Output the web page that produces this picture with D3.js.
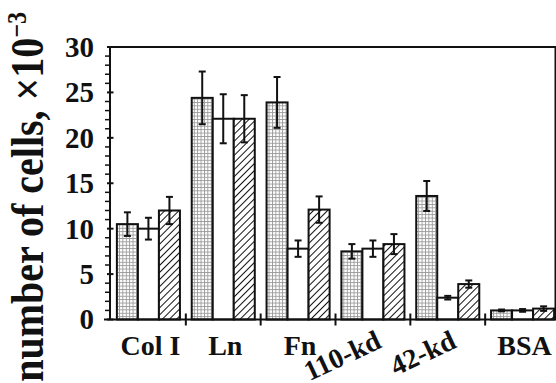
<!DOCTYPE html>
<html>
<head>
<meta charset="utf-8">
<script src="https://cdn.jsdelivr.net/npm/d3@7"></script>
<style>
  body { margin: 0; background: #fff; }
  text { font-family: "Liberation Serif", "Times New Roman", Times, serif; font-weight: 700; fill: #111; }
</style>
</head>
<body>
<script>
const w = 556, h = 383;

// data (number of cells x 10^-3)
const categories = ["Col I", "Ln", "Fn", "110-kd", "42-kd", "BSA"];
const series = ["dotted", "open", "hatched"];
const dottedVals = [10.5, 24.4, 23.9, 7.5, 13.6, 1.0];
const dottedErr  = [1.3, 2.9, 2.8, 0.8, 1.65, 0.1];
const openVals   = [10.0, 22.1, 7.8, 7.8, 2.4, 1.0];
const openErr    = [1.2, 2.7, 0.9, 0.9, 0.2, 0.15];
const hatchVals  = [12.0, 22.1, 12.1, 8.3, 3.9, 1.2];
const hatchErr   = [1.5, 2.6, 1.45, 1.1, 0.4, 0.25];
const yTicks = [0, 5, 10, 15, 20, 25, 30];
const rotatedLabels = ["110-kd", "42-kd"];

const vals = [dottedVals, openVals, hatchVals];
const errs = [dottedErr, openErr, hatchErr];

let rows = [];
categories.forEach((c, i) => {
    series.forEach((s, j) => {
        rows.push({ cat: c, ser: s, v: vals[j][i], e: errs[j][i] });
    });
});

const pLeft = 110, pRight = 555.5, pTop = 47, pBottom = 319.5;

let xScale = d3.scaleBand().domain(categories).range([111, 560]);
let xSub = d3.scaleBand().domain(series).range([0, xScale.bandwidth()]).paddingOuter(0.28);
let yScale = d3.scaleLinear().domain([0, 30]).range([pBottom, pTop]);

var svg = d3.select("body")
    .append("svg")
    .attr("width", w)
    .attr("height", h);

//patterns
let defs = svg.append("defs");
let dot = defs.append("pattern")
    .attr("id", "dots")
    .attr("patternUnits", "userSpaceOnUse")
    .attr("width", 3.4).attr("height", 3.4);
dot.append("rect").attr("width", 3.4).attr("height", 3.4).attr("fill", "#fff");
dot.append("rect").attr("width", 3.4).attr("height", 0.9).attr("fill", "#999");
dot.append("rect").attr("width", 0.9).attr("height", 3.4).attr("fill", "#999");

let hatch = defs.append("pattern")
    .attr("id", "hatch")
    .attr("patternUnits", "userSpaceOnUse")
    .attr("width", 5).attr("height", 5)
    .attr("patternTransform", "rotate(45)");
hatch.append("rect").attr("width", 5).attr("height", 5).attr("fill", "#fff");
hatch.append("line")
    .attr("x1", 0).attr("y1", 0).attr("x2", 0).attr("y2", 5)
    .attr("stroke", "#111").attr("stroke-width", 2);

const fills = { dotted: "url(#dots)", open: "#fff", hatched: "url(#hatch)" };

//bars
svg.selectAll("rect.bar")
    .data(rows)
    .enter()
    .append("rect")
    .attr("class", "bar")
    .attr("x", d => xScale(d.cat) + xSub(d.ser))
    .attr("y", d => yScale(d.v))
    .attr("width", xSub.bandwidth())
    .attr("height", d => yScale(0) - yScale(d.v))
    .attr("fill", d => fills[d.ser])
    .attr("stroke", "#111")
    .attr("stroke-width", 2);

//error bars
let eb = svg.selectAll("g.err")
    .data(rows)
    .enter()
    .append("g")
    .attr("class", "err")
    .attr("stroke", "#111")
    .attr("stroke-width", 2);
const cx = d => xScale(d.cat) + xSub(d.ser) + xSub.bandwidth() / 2;
eb.append("line")
    .attr("x1", cx).attr("x2", cx)
    .attr("y1", d => yScale(d.v + d.e))
    .attr("y2", d => yScale(d.v - d.e));
eb.append("line")
    .attr("x1", d => cx(d) - 3.5).attr("x2", d => cx(d) + 3.5)
    .attr("y1", d => yScale(d.v + d.e)).attr("y2", d => yScale(d.v + d.e));
eb.append("line")
    .attr("x1", d => cx(d) - 3.5).attr("x2", d => cx(d) + 3.5)
    .attr("y1", d => yScale(d.v - d.e)).attr("y2", d => yScale(d.v - d.e));

//frame
svg.append("path")
    .attr("d", "M" + pLeft + "," + pBottom + "V" + pTop + "H" + pRight + "V" + pBottom)
    .attr("fill", "none")
    .attr("stroke", "#111")
    .attr("stroke-width", 2);
svg.append("line")
    .attr("x1", 104).attr("x2", w)
    .attr("y1", pBottom).attr("y2", pBottom)
    .attr("stroke", "#111").attr("stroke-width", 2);

//y ticks
let minor = d3.range(0, 31).filter(v => v % 5 != 0);
svg.selectAll("line.minor")
    .data(minor)
    .enter()
    .append("line")
    .attr("x1", pLeft - 5).attr("x2", pLeft)
    .attr("y1", d => yScale(d)).attr("y2", d => yScale(d))
    .attr("stroke", "#111").attr("stroke-width", 1.5);
svg.selectAll("line.major")
    .data(yTicks)
    .enter()
    .append("line")
    .attr("x1", pLeft - 3).attr("x2", pLeft + 3.5)
    .attr("y1", d => yScale(d)).attr("y2", d => yScale(d))
    .attr("stroke", "#111").attr("stroke-width", 2);
svg.selectAll("text.ylab")
    .data(yTicks)
    .enter()
    .append("text")
    .attr("x", 94)
    .attr("y", d => yScale(d))
    .attr("dy", "0.34em")
    .attr("text-anchor", "end")
    .attr("font-size", 29)
    .text(d => d);

//x ticks at group boundaries
svg.selectAll("line.xt")
    .data(categories.slice(1))
    .enter()
    .append("line")
    .attr("x1", d => xScale(d)).attr("x2", d => xScale(d))
    .attr("y1", pBottom - 6).attr("y2", pBottom + 6)
    .attr("stroke", "#111").attr("stroke-width", 2);

//x labels
svg.selectAll("text.xlab")
    .data(categories.filter(c => rotatedLabels.indexOf(c) < 0))
    .enter()
    .append("text")
    .attr("x", d => xScale(d) + xScale.bandwidth() / 2 + 2)
    .attr("y", 355)
    .attr("text-anchor", "middle")
    .attr("font-size", 28)
    .text(d => d);
svg.selectAll("text.xrot")
    .data(rotatedLabels)
    .enter()
    .append("text")
    .attr("transform", d => "translate(" + (xScale(d) + xScale.bandwidth() / 2 + 10) + ",347) rotate(-25)")
    .attr("text-anchor", "end")
    .attr("font-size", 28)
    .text(d => d);

//y axis title
let yt = svg.append("text")
    .attr("transform", "translate(43,12) rotate(-90) scale(1,1.18)")
    .attr("text-anchor", "end")
    .attr("font-size", 40);
yt.append("tspan").text("number of cells, \u00d710");
yt.append("tspan").attr("dy", -14).attr("font-size", 24).text("\u22123");
</script>
</body>
</html>
